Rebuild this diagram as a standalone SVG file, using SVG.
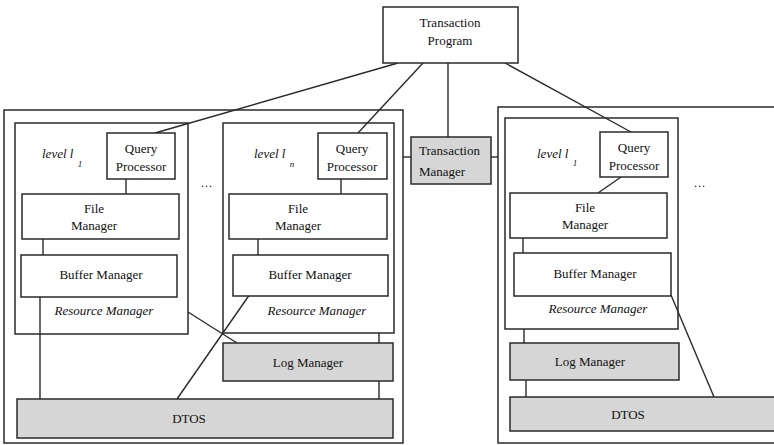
<svg xmlns="http://www.w3.org/2000/svg" width="774" height="445" viewBox="0 0 774 445">
<style>
rect{fill:#fff;stroke:#2a2a2a;stroke-width:1.5}
rect.g{fill:#d6d6d6}
line,polyline{stroke:#2a2a2a;stroke-width:1.4;fill:none}
text{font-family:"Liberation Serif","Times New Roman",serif;font-size:13px;fill:#111;text-anchor:middle}
text.i{font-style:italic}
text.s{font-size:9px;font-style:italic}
text.d{font-size:12px;letter-spacing:1px}
</style>
<rect width="774" height="445" style="fill:#fff;stroke:none"/>
<g id="site-left">
<rect x="4" y="110" width="399" height="333"/>
</g>
<g id="site-right">
<rect x="498" y="107" width="290" height="336"/>
</g>
<g id="rm-l1">
<rect x="15" y="123" width="173" height="211"/>
<text class="i" x="42" y="158" style="text-anchor:start">level l</text>
<text class="s" x="80" y="167">1</text>
<text class="i" x="104" y="315">Resource Manager</text>
</g>
<g id="rm-ln">
<rect x="223" y="123" width="171" height="210"/>
<text class="i" x="254" y="158" style="text-anchor:start">level l</text>
<text class="s" x="292" y="167">n</text>
<text class="i" x="317" y="315">Resource Manager</text>
</g>
<g id="rm-r1">
<rect x="505" y="118" width="173" height="211"/>
<text class="i" x="537" y="158" style="text-anchor:start">level l</text>
<text class="s" x="575" y="166">1</text>
<text class="i" x="598" y="313">Resource Manager</text>
</g>
<g id="dots">
<text class="d" x="207" y="187">...</text>
<text class="d" x="700" y="187">...</text>
</g>
<g id="connectors">
<line x1="398" y1="63" x2="155" y2="133"/>
<line x1="423" y1="63" x2="358" y2="133"/>
<line x1="448" y1="63" x2="448" y2="137"/>
<line x1="505" y1="63" x2="631" y2="132"/>
<line x1="403" y1="157" x2="411" y2="157"/>
<line x1="491" y1="157" x2="498" y2="157"/>
<line x1="126" y1="179" x2="126" y2="194"/>
<line x1="341" y1="179" x2="341" y2="194"/>
<line x1="621" y1="177" x2="598" y2="193"/>
<line x1="43" y1="239" x2="43" y2="255"/>
<line x1="258" y1="239" x2="258" y2="255"/>
<line x1="523" y1="238" x2="523" y2="253"/>
<line x1="40" y1="297" x2="40" y2="399"/>
<line x1="188" y1="312" x2="237" y2="343"/>
<line x1="250" y1="294" x2="177" y2="399"/>
<line x1="379" y1="333" x2="379" y2="343"/>
<line x1="379" y1="381" x2="379" y2="399"/>
<line x1="671" y1="295" x2="714" y2="397"/>
<line x1="524" y1="329" x2="524" y2="343"/>
<line x1="526" y1="380" x2="526" y2="397"/>
</g>
<g id="transaction-program">
<rect x="383" y="7" width="135" height="56"/>
<text x="450" y="27">Transaction</text>
<text x="450" y="45">Program</text>
</g>
<g id="transaction-manager">
<rect class="g" x="411" y="137" width="80" height="47"/>
<text x="419" y="155" style="text-anchor:start">Transaction</text>
<text x="419" y="176" style="text-anchor:start">Manager</text>
</g>
<g id="qp-l1">
<rect x="107" y="133" width="68" height="46"/>
<text x="141" y="153">Query</text>
<text x="141" y="171">Processor</text>
</g>
<g id="qp-ln">
<rect x="318" y="133" width="69" height="46"/>
<text x="352" y="153">Query</text>
<text x="352" y="171">Processor</text>
</g>
<g id="qp-r1">
<rect x="600" y="132" width="68" height="45"/>
<text x="634" y="152">Query</text>
<text x="634" y="170">Processor</text>
</g>
<g id="fm-l1">
<rect x="22" y="194" width="157" height="45"/>
<text x="94" y="213">File</text>
<text x="94" y="230">Manager</text>
</g>
<g id="fm-ln">
<rect x="229" y="194" width="158" height="45"/>
<text x="298" y="213">File</text>
<text x="298" y="230">Manager</text>
</g>
<g id="fm-r1">
<rect x="510" y="193" width="157" height="45"/>
<text x="585" y="212">File</text>
<text x="585" y="229">Manager</text>
</g>
<g id="bm-l1">
<rect x="21" y="255" width="156" height="42"/>
<text x="101" y="279">Buffer Manager</text>
</g>
<g id="bm-ln">
<rect x="233" y="255" width="155" height="41"/>
<text x="310" y="279">Buffer Manager</text>
</g>
<g id="bm-r1">
<rect x="514" y="253" width="157" height="43"/>
<text x="595" y="278">Buffer Manager</text>
</g>
<g id="log-left">
<rect class="g" x="223" y="343" width="170" height="38"/>
<text x="308" y="367">Log Manager</text>
</g>
<g id="log-right">
<rect class="g" x="510" y="343" width="169" height="37"/>
<text x="590" y="366">Log Manager</text>
</g>
<g id="dtos-left">
<rect class="g" x="17" y="399" width="376" height="39"/>
<text x="189" y="423">DTOS</text>
</g>
<g id="dtos-right">
<rect class="g" x="510" y="397" width="280" height="34"/>
<text x="628" y="419">DTOS</text>
</g>
</svg>
